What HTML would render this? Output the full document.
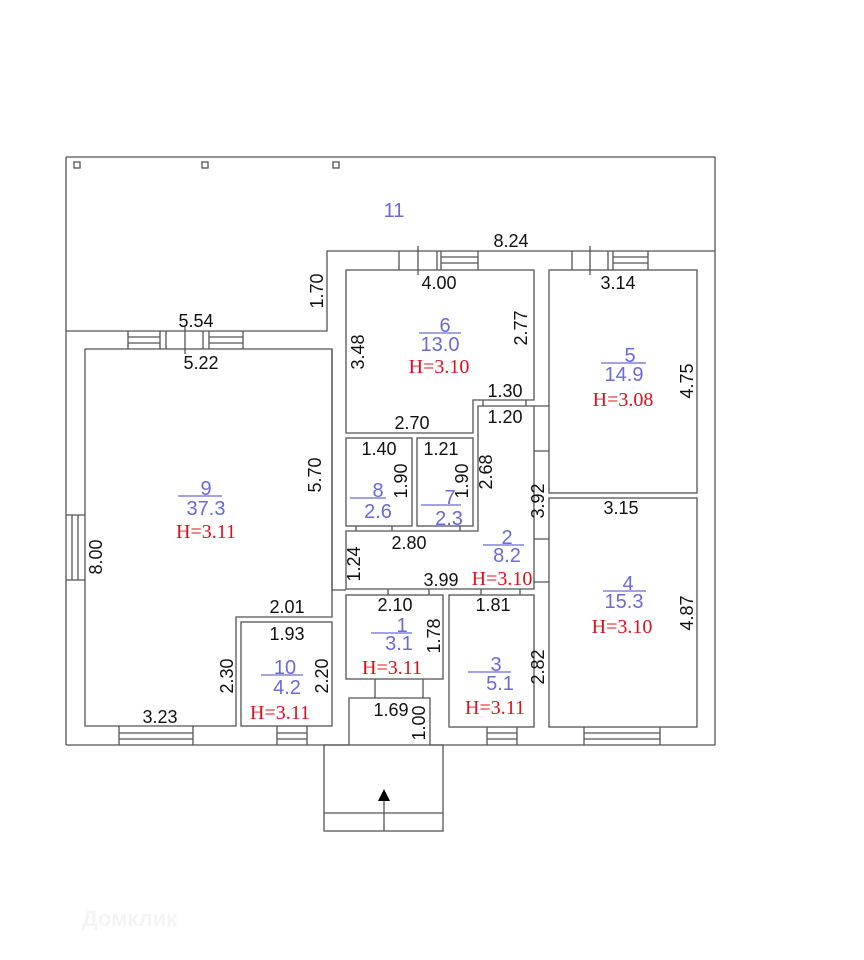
<!DOCTYPE html>
<html><head><meta charset="utf-8"><style>
html,body{margin:0;padding:0;background:#fff;}
svg{display:block;}
.d{font-family:"Liberation Sans",sans-serif;font-size:18px;fill:#111;}
.b{font-family:"Liberation Sans",sans-serif;font-size:20px;fill:#6a6ad8;}
.r{font-family:"Liberation Serif",serif;font-size:20px;fill:#e0101a;}
</style></head><body>
<svg width="864" height="960" viewBox="0 0 864 960" xmlns="http://www.w3.org/2000/svg">
<g fill="none" stroke="#555" stroke-width="1.3">
<path d="M66 157 H715 V745 H430 M349 745 H66 Z"/>
<path d="M66 157 V745"/>
<path d="M66 331 H327 V251 H715"/>
<rect x="74" y="162" width="6" height="6"/><rect x="202" y="162" width="6" height="6"/><rect x="333" y="162" width="6" height="6"/>
<path d="M85 349 H332 V617 H236 V726 H85 Z"/>
<path d="M128 331 V349 M160 331 V349 M166 331 V349 M203 331 V349 M209 331 V349 M243 331 V349 M128 337 H160 M128 343 H160 M209 337 H243 M209 343 H243 M185 326 V354"/>
<path d="M66 515 H85 M66 580 H85 M72 515 V580 M78 515 V580"/>
<rect x="241" y="622" width="91" height="104"/>
<path d="M277 726 V745 M307 726 V745 M277 733 H307 M277 739 H307"/>
<path d="M119 726 V745 M193 726 V745 M119 733 H193 M119 739 H193"/>
<path d="M332 349 V590 H346"/>
<path d="M346 270 H534 V400 H473 V433 H346 Z"/>
<path d="M399 251 V270 M437 251 V270 M441 251 V270 M478 251 V270 M418 246 V275 M441 257 H478 M441 263 H478"/>
<rect x="346" y="438" width="66" height="88"/>
<rect x="417" y="438" width="56" height="88"/>
<path d="M356 526 V531 M392 526 V531 M460 526 V531"/>
<path d="M478 406 H534 V589 H346 V531 H478 Z"/>
<path d="M483 400 V406 M526 400 V406"/>
<path d="M534 406 H549 M534 451 H549 M534 539 H549 M534 582 H549"/>
<rect x="346" y="595" width="97" height="84"/>
<path d="M388 589 V595 M429 589 V595 M481 589 V595 M520 589 V595"/>
<rect x="449" y="595" width="85" height="132"/>
<path d="M487 727 V745 M517 727 V745 M487 733 H517 M487 739 H517"/>
<rect x="549" y="270" width="148" height="223"/>
<path d="M572 251 V270 M608 251 V270 M613 251 V270 M648 251 V270 M590 246 V275 M613 257 H648 M613 263 H648"/>
<rect x="549" y="498" width="148" height="229"/>
<path d="M584 727 V745 M660 727 V745 M584 733 H660 M584 739 H660"/>
<path d="M375 679 V698 M423 679 V698 M349 745 V698 H430 V745"/>
<rect x="324" y="745" width="119" height="86"/>
<path d="M324 813 H443 M384 797 V831"/>
</g>
<polygon points="384,789 378,801 390,801" fill="#000"/>
<g stroke="#6a6ad8" stroke-width="1.2">
<line x1="178" y1="496" x2="222" y2="496"/>
<line x1="419" y1="333" x2="461" y2="333"/>
<line x1="601" y1="363" x2="646" y2="363"/>
<line x1="350" y1="498" x2="386" y2="498"/>
<line x1="421" y1="505" x2="461" y2="505"/>
<line x1="483" y1="545" x2="524" y2="545"/>
<line x1="371" y1="633" x2="412" y2="633"/>
<line x1="468" y1="672" x2="511" y2="672"/>
<line x1="603" y1="591" x2="646" y2="591"/>
<line x1="261" y1="675" x2="303" y2="675"/>
</g>
<g class="b" text-anchor="middle">
<text x="394" y="217">11</text>
<text x="206" y="495">9</text><text x="206" y="515">37.3</text>
<text x="445" y="332">6</text><text x="440" y="351">13.0</text>
<text x="630" y="362">5</text><text x="624" y="381">14.9</text>
<text x="378" y="497">8</text><text x="378" y="518">2.6</text>
<text x="450" y="504">7</text><text x="449" y="525">2.3</text>
<text x="507" y="544">2</text><text x="507" y="562">8.2</text>
<text x="402" y="632">1</text><text x="399" y="650">3.1</text>
<text x="496" y="671">3</text><text x="500" y="690">5.1</text>
<text x="628" y="590">4</text><text x="624" y="608">15.3</text>
<text x="285" y="674">10</text><text x="287" y="694">4.2</text>
</g>
<g class="r" text-anchor="middle">
<text x="206" y="538">H=3.11</text>
<text x="439" y="373">H=3.10</text>
<text x="623" y="406">H=3.08</text>
<text x="502" y="585">H=3.10</text>
<text x="392" y="674">H=3.11</text>
<text x="495" y="714">H=3.11</text>
<text x="622" y="633">H=3.10</text>
<text x="280" y="719">H=3.11</text>
</g>
<g class="d" text-anchor="middle">
<text x="511" y="247">8.24</text>
<text x="196" y="327">5.54</text>
<text x="201" y="369">5.22</text>
<text x="439" y="289">4.00</text>
<text x="618" y="289">3.14</text>
<text x="505" y="397">1.30</text>
<text x="505" y="423">1.20</text>
<text x="412" y="429">2.70</text>
<text x="379" y="455">1.40</text>
<text x="441" y="455">1.21</text>
<text x="409" y="549">2.80</text>
<text x="441" y="586">3.99</text>
<text x="395" y="611">2.10</text>
<text x="493" y="611">1.81</text>
<text x="621" y="514">3.15</text>
<text x="287" y="613">2.01</text>
<text x="287" y="640">1.93</text>
<text x="160" y="723">3.23</text>
<text x="391" y="716">1.69</text>
</g>
<g class="d" text-anchor="middle">
<text transform="translate(323,291) rotate(-90)">1.70</text>
<text transform="translate(364,352) rotate(-90)">3.48</text>
<text transform="translate(527,328) rotate(-90)">2.77</text>
<text transform="translate(321,475) rotate(-90)">5.70</text>
<text transform="translate(102,557) rotate(-90)">8.00</text>
<text transform="translate(407,481) rotate(-90)">1.90</text>
<text transform="translate(468,481) rotate(-90)">1.90</text>
<text transform="translate(492,472) rotate(-90)">2.68</text>
<text transform="translate(544,501) rotate(-90)">3.92</text>
<text transform="translate(360,564) rotate(-90)">1.24</text>
<text transform="translate(440,636) rotate(-90)">1.78</text>
<text transform="translate(544,667) rotate(-90)">2.82</text>
<text transform="translate(693,381) rotate(-90)">4.75</text>
<text transform="translate(693,613) rotate(-90)">4.87</text>
<text transform="translate(233,676) rotate(-90)">2.30</text>
<text transform="translate(328,676) rotate(-90)">2.20</text>
<text transform="translate(425,723) rotate(-90)">1.00</text>
</g>
<text x="82" y="926" font-family="Liberation Sans,sans-serif" font-size="22" font-weight="bold" fill="#f4f4f4">Домклик</text>
</svg>
</body></html>
